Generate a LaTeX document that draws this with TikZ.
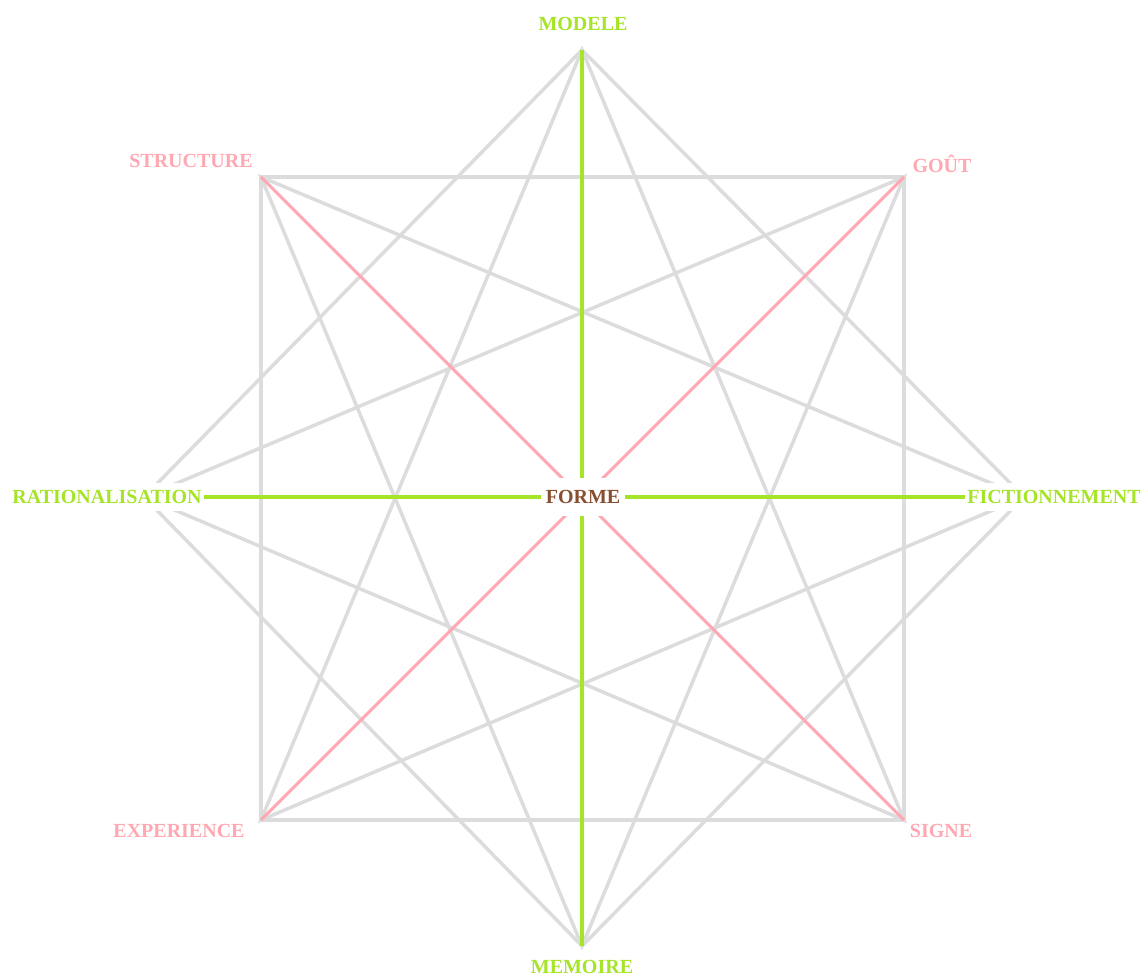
\documentclass[tikz,border=0pt]{standalone}
\usepackage{fontspec}
\setmainfont{Liberation Serif}
\usepackage{tikz}
\usetikzlibrary{positioning,calc}
\definecolor{FGreen} {RGB}{166,228, 40}
\definecolor{FPink}  {RGB}{255,168,178}
\definecolor{FGray}  {RGB}{220,220,220}
\definecolor{FBrown} {RGB}{136, 78, 48}

\begin{document}
\begin{tikzpicture}[
  x=0.5pt, y=-0.5pt,
  web/.style  = {FGray, line width=1.75pt},
  axe/.style  = {FGreen, line width=2pt},
  diag/.style = {FPink, line width=1.5pt},
  lbl/.style  = {fill=white, inner xsep=1pt, inner ysep=3.5pt,
                 font=\normalsize\bfseries},
  lblg/.style = {lbl, text=FGreen},
  lblp/.style = {lbl, text=FPink},
  ctr/.style  = {fill=white, inner xsep=2.2pt, minimum height=19pt,
                 font=\normalsize\bfseries, text=FBrown}
]
\useasboundingbox (0,0) rectangle (1141,978);
% points of the star
\coordinate (Mod) at (582,50);
\coordinate (Gou) at (904,177);
\coordinate (Fic) at (1024,497);
\coordinate (Sig) at (904,820);
\coordinate (Mem) at (582,946);
\coordinate (Exp) at (261,820);
\coordinate (Rat) at (144,497);
\coordinate (Str) at (261,177);
% grey web
\draw[web] (Str)--(Gou)--(Sig)--(Exp)--cycle;
\draw[web] (Mod)--(Fic)--(Mem)--(Rat)--cycle;
\draw[web] (Mod)--(Sig)--(Rat)--(Gou)--(Mem)--(Str)--(Fic)--(Exp)--cycle;
% axes through the centre
\draw[axe]  (Mod)--(Mem);
\draw[axe]  (Rat)--(Fic);
\draw[diag] (Str)--(Sig);
\draw[diag] (Gou)--(Exp);
% labels
\node[ctr] (Forme) at (583,497) {FORME};
\node[lblg] (LMod) at (583,24)  {MODELE};
\node[lblg] (LMem) at (582,967) {MEMOIRE};
\node[lblg] (LRat) at (107,497) {RATIONALISATION};
\node[lblg] (LFic) at (1054,497) {FICTIONNEMENT};
\node[lblp] (LStr) at (191,161) {STRUCTURE};
\node[lblp] (LGou) at (942,164) {GOÛT};
\node[lblp] (LExp) at (179,831) {EXPERIENCE};
\node[lblp] (LSig) at (941,831) {SIGNE};
\end{tikzpicture}
\end{document}
